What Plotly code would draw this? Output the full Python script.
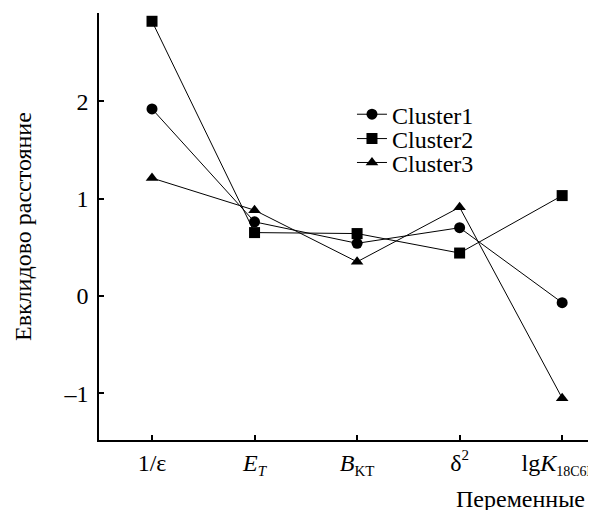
import plotly.graph_objects as go

categories = ["1/ε",
              "<i>E</i><sub><i><span style='font-size:15px'>T</span></i></sub>",
              "<i>B</i><sub><span style='font-size:15px'>KT</span></sub>",
              "δ<sup><span style='font-size:15px'>2</span></sup>",
              "lg<i>K</i><sub><span style='font-size:14px'>18C6Na</span></sub>"]
cluster1 = [1.92, 0.76, 0.54, 0.70, -0.07]
cluster2 = [2.82, 0.65, 0.64, 0.44, 1.03]
cluster3 = [1.21, 0.88, 0.35, 0.91, -1.05]
y_ticks = [-1, 0, 1, 2]
y_tick_labels = ["–1", "0", "1", "2"]
series_names = ["Cluster1", "Cluster2", "Cluster3"]

FONT = "Liberation Serif"
FS = 24
xs = list(range(len(categories)))

fig = go.Figure()
legend_ids = ["legend", "legend2", "legend3"]
legend_y = [0.762, 0.705, 0.649]
for name, vals, sym, lg in zip(series_names, [cluster1, cluster2, cluster3],
                               ["circle", "square", "triangle-up"], legend_ids):
    fig.add_trace(go.Scatter(
        x=xs, y=vals, name=name, mode="lines+markers", legend=lg,
        line=dict(color="black", width=1),
        marker=dict(symbol=sym, size=11, color="black"),
    ))

leg_common = dict(x=0.509, xanchor="left", yanchor="middle",
                  bgcolor="rgba(0,0,0,0)", font=dict(size=FS, family=FONT),
                  itemwidth=30)
fig.update_layout(
    width=596, height=510,
    margin=dict(l=91, r=8, t=5, b=78),
    paper_bgcolor="white", plot_bgcolor="white",
    font=dict(family=FONT, size=FS, color="black"),
    showlegend=True,
    legend=dict(y=legend_y[0], **leg_common),
    legend2=dict(y=legend_y[1], **leg_common),
    legend3=dict(y=legend_y[2], **leg_common),
    xaxis=dict(range=[-0.517, 4.33], tickmode="array", tickvals=xs, ticktext=categories,
               showline=True, linecolor="black", linewidth=1.5,
               ticks="inside", ticklen=5, tickwidth=1.5, tickcolor="black",
               showgrid=False, zeroline=False, ticklabelstandoff=0,
               automargin=False, ticklabeloverflow="allow",
               tickfont=dict(size=FS, family=FONT)),
    yaxis=dict(range=[-1.48, 2.905], tickmode="array", tickvals=y_ticks, ticktext=y_tick_labels,
               showline=True, linecolor="black", linewidth=1.5,
               ticks="inside", ticklen=5, tickwidth=1.5, tickcolor="black",
               showgrid=False, zeroline=False, ticklabelstandoff=4,
               automargin=False, tickfont=dict(size=FS, family=FONT)),
)
fig.add_annotation(text="Евклидово расстояние", xref="paper", yref="paper",
                   x=-0.153, y=0.501, xanchor="center", yanchor="middle", textangle=-90,
                   showarrow=False, font=dict(size=FS, family=FONT))
fig.add_annotation(text="Переменные", xref="paper", yref="paper",
                   x=0.982, y=-0.138, xanchor="right", yanchor="middle",
                   showarrow=False, font=dict(size=FS, family=FONT))

fig.write_html("out.html")
